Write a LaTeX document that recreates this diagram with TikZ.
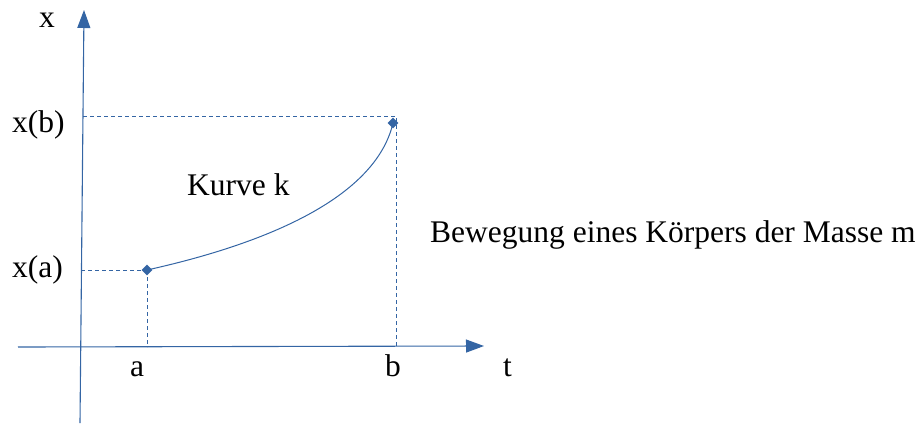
\documentclass[tikz,border=0pt]{standalone}
\usepackage{fontspec}
\setmainfont{Liberation Serif}
\usetikzlibrary{arrows.meta,shapes.geometric}
\definecolor{lblue}{RGB}{52,101,164}
\tikzset{
  axis/.style={draw=lblue,line width=1.1pt,-{Triangle[length=18pt,width=13pt]}},
  guide/.style={draw=lblue,line width=1pt,dash pattern=on 4pt off 3pt},
  curve/.style={draw=lblue,line width=1pt},
  dot/.style={diamond,fill=lblue,inner sep=0pt,minimum size=11pt},
  lbl/.style={anchor=base west,inner sep=0pt,font=\fontsize{31.5}{36}\selectfont}
}
\begin{document}
\begin{tikzpicture}[x=1pt,y=-1pt]
\useasboundingbox (0,0) rectangle (923,424);
% axes
\coordinate (ybot) at (80,423);
\coordinate (ytop) at (84,10);
\coordinate (xleft) at (18,347);
\coordinate (xright) at (484,346);
\draw[axis] (ybot) -- (ytop);
\draw[axis] (xleft) -- (xright);
% points
\node[dot] (A) at (147,270) {};
\node[dot] (B) at (393,123) {};
\coordinate (ya) at (81,270);
\coordinate (ta) at (147,347);
\coordinate (yb) at (83,116);
\coordinate (cb) at (396,116);
\coordinate (tb) at (396,347);
\draw[guide] (ya) -- (A.center);
\draw[guide] (A.center) -- (ta);
\draw[guide] (yb) -- (cb) -- (tb);
\draw[curve] (A.center) .. controls (260,245) and (375,200) .. (B.center);
% labels
\node[lbl] (lx) at (39,27) {x};
\node[lbl] (lxb) at (12,132) {x(b)};
\node[lbl] (lxa) at (12,277) {x(a)};
\node[lbl] (la) at (130,376) {a};
\node[lbl] (lb) at (385,376) {b};
\node[lbl] (lt) at (503,376) {t};
\node[lbl] (lk) at (187,195) {Kurve k};
\node[lbl] (lm) at (430,242) {Bewegung eines Körpers der Masse m};
\end{tikzpicture}
\end{document}
